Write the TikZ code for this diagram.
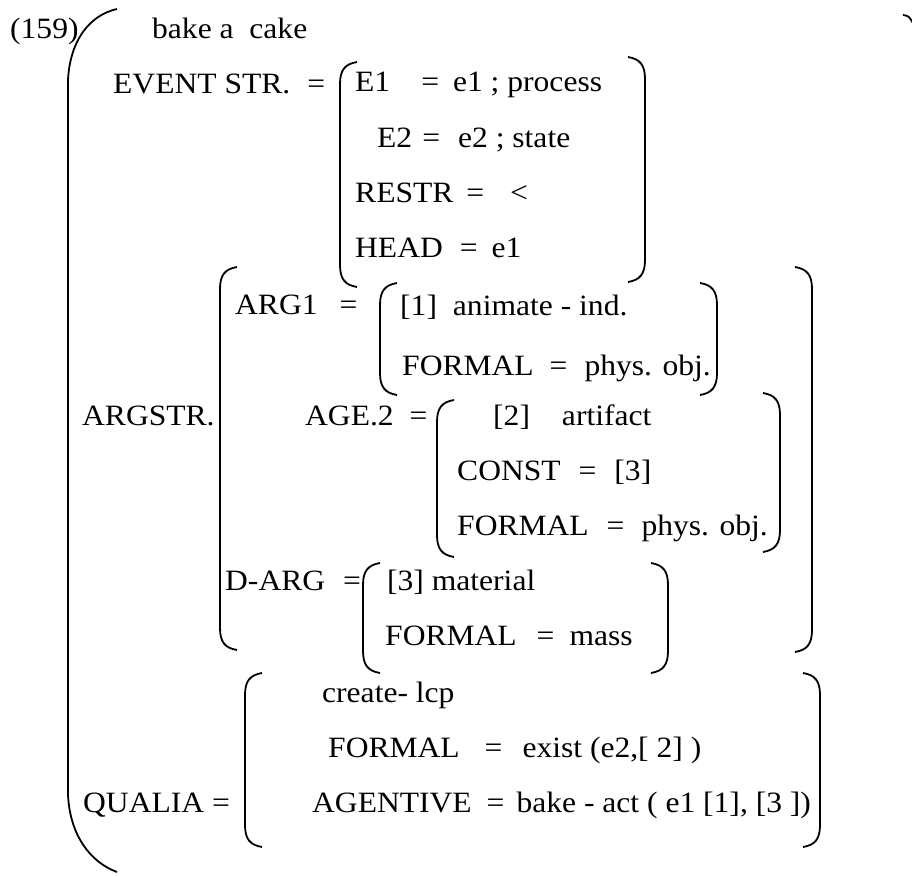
\documentclass[tikz,border=0pt]{standalone}
\usepackage{fontspec}
\setmainfont{Liberation Serif}[FakeStretch=1.07]
\begin{document}
\begin{tikzpicture}[x=1pt, y=-1pt,
        lbl/.style={anchor=base west, inner sep=0pt, font=\fontsize{29.5}{35}\selectfont},
        brk/.style={line width=1.8pt}]
    \useasboundingbox (0,0) rectangle (912,875);
    % outer bracket
    \draw[brk] (117,9) .. controls (90,15) and (70,40) .. (68,80) -- (68,795) .. controls (70,835) and (90,862) .. (117,872);
    \begin{scope}
        \clip (0,0) rectangle (912,875);
        \draw[brk] (903,15) .. controls (909,16) .. (914,25);
    \end{scope}
    % left brackets: x/top/bottom
    \foreach \x/\t/\b in {340/62/287, 220/267/650, 380/283/395, 437/400/557, 363/563/673, 245/673/847}{
        \draw[brk] (\x+17,\t) .. controls (\x+5,\t+2) and (\x,\t+8) .. (\x,\t+22) -- (\x,\b-22) .. controls (\x,\b-8) and (\x+5,\b-2) .. (\x+17,\b);
    }
    % right brackets
    \foreach \x/\t/\b in {645/57/282, 812/267/652, 717/283/395, 780/393/552, 668/563/673, 820/673/847}{
        \draw[brk] (\x-17,\t) .. controls (\x-5,\t+2) and (\x,\t+8) .. (\x,\t+22) -- (\x,\b-22) .. controls (\x,\b-8) and (\x-5,\b-2) .. (\x-17,\b);
    }
    \node[lbl] (num) at (10,38) {(159)};
    \node[lbl] (title) at (152,38) {bake a\ \ cake};
    \node[lbl] (evt) at (113,93) {EVENT STR.\hspace{17pt}=};
    \node[lbl] (e1) at (355,92) {E1\hspace{31pt}=\hspace{14pt}e1 ; process};
    \node[lbl] (e2) at (377,147) {E2\hspace{10pt}=\hspace{18pt}e2 ; state};
    \node[lbl] (restr) at (355,202) {RESTR\hspace{13pt}=\hspace{26pt}<};
    \node[lbl] (head) at (355,257) {HEAD\hspace{17pt}=\hspace{14pt}e1};
    \node[lbl] (argstr) at (82,425) {ARGSTR.};
    \node[lbl] (arg1) at (235,314) {ARG1\hspace{22pt}=};
    \node[lbl] (anim) at (400,315) {[1]\hspace{16pt}animate - ind.};
    \node[lbl] (form1) at (402,375) {FORMAL\hspace{16pt}=\hspace{17pt}phys. obj.};
    \node[lbl] (age) at (305,425) {AGE.2\hspace{16pt}=};
    \node[lbl] (artf) at (493,425) {[2]\hspace{32pt}artifact};
    \node[lbl] (const) at (457,480) {CONST\hspace{18pt}=\hspace{18pt}[3]};
    \node[lbl] (form2) at (457,535) {FORMAL\hspace{18pt}=\hspace{17pt}phys. obj.};
    \node[lbl] (darg) at (225,590) {D-ARG\hspace{18pt}=};
    \node[lbl] (matl) at (387,590) {[3] material};
    \node[lbl] (form3) at (385,645) {FORMAL\hspace{20pt}=\hspace{15pt}mass};
    \node[lbl] (lcp) at (322,702) {create- lcp};
    \node[lbl] (form4) at (328,757) {FORMAL\hspace{25pt}=\hspace{20pt}exist (e2,[ 2] )};
    \node[lbl] (qualia) at (83,812) {QUALIA =};
    \node[lbl] (agent) at (312,812) {AGENTIVE\hspace{15pt}=\hspace{12pt}bake - act ( e1 [1], [3 ])};
\end{tikzpicture}
\end{document}
